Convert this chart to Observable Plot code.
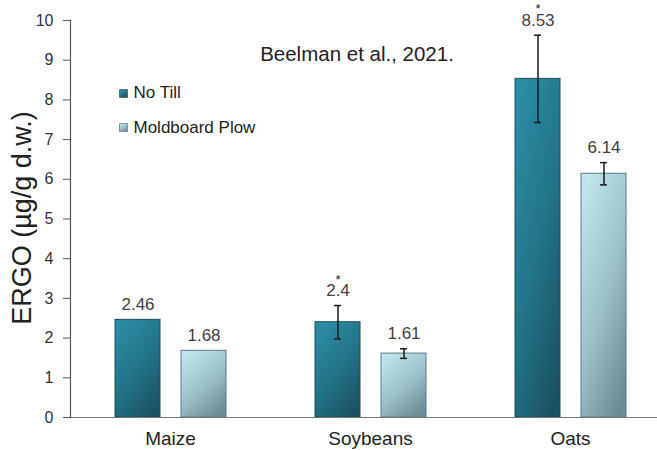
<!DOCTYPE html>
<html><head><meta charset="utf-8">
<script src="https://cdn.jsdelivr.net/npm/d3@7"></script>
<script src="https://cdn.jsdelivr.net/npm/@observablehq/plot@0.6"></script>
<style>body{margin:0;background:#fff;overflow:hidden} svg{display:block}</style>
</head><body><div id="chart"></div>
<script>
const categories = ["Maize", "Soybeans", "Oats"];
const seriesNames = ["No Till", "Moldboard Plow"];
const noTill = [2.46, 2.4, 8.53];
const plow = [1.68, 1.61, 6.14];
const noTillErr = [0, 0.42, 1.1];
const plowErr = [0, 0.12, 0.28];
const noTillSig = ["", "*", "*"];
const plowSig = ["", "", ""];
const yTicks = [0, 1, 2, 3, 4, 5, 6, 7, 8, 9, 10];
const titleText = "Beelman et al., 2021.";
const yLabel = "ERGO (µg/g d.w.)";

const mk = (vals, errs, sigs, s) => categories.map((c, i) => ({category: c, series: s, value: vals[i], err: errs[i], sig: sigs[i]}));
const ntData = mk(noTill, noTillErr, noTillSig, seriesNames[0]);
const mpData = mk(plow, plowErr, plowSig, seriesNames[1]);

const font = "'Liberation Sans', Arial, sans-serif";
const layout = {
  "No Till": {l: 45, r: 110, dx: -32.5, fill: "url(#gradNT)", stroke: "#1e4c58"},
  "Moldboard Plow": {l: 111, r: 44, dx: 33.5, fill: "url(#gradMP)", stroke: "#5d7a83"}
};

function seriesMarks(data, s) {
  const b = layout[s];
  const e = data.filter(d => d.err > 0);
  const top = d => d.value + d.err;
  const capInset = {insetLeft: 100 + b.dx - 3.5, insetRight: 100 - b.dx - 3.5};
  return [
    Plot.barY(data, {x: "category", y: "value", fill: b.fill, stroke: b.stroke, strokeWidth: 1, insetLeft: b.l, insetRight: b.r}),
    Plot.ruleX(e, {x: "category", y1: d => d.value - d.err, y2: top, dx: b.dx, stroke: "#1a1a1a", strokeWidth: 1.5}),
    Plot.tickY(e, {x: "category", y: top, ...capInset, stroke: "#1a1a1a", strokeWidth: 1.5}),
    Plot.tickY(e, {x: "category", y: d => d.value - d.err, ...capInset, stroke: "#1a1a1a", strokeWidth: 1.5}),
    Plot.text(data, {x: "category", y: top, text: d => String(d.value), dx: b.dx, dy: -15, fontSize: 17, fill: "#404040"}),
    Plot.text(data.filter(d => d.sig), {x: "category", y: top, text: "sig", dx: b.dx, dy: -31, lineAnchor: "top", fontSize: 13, fill: "#222"})
  ];
}

const plot = Plot.plot({
  width: 657, height: 450,
  marginTop: 20, marginBottom: 33, marginLeft: 70, marginRight: 0,
  style: {fontFamily: font, fontSize: "16px", color: "#333", background: "#fff"},
  x: {domain: categories, range: [70, 670], padding: 0, axis: null},
  y: {domain: [0, 10], axis: null},
  marks: [
    Plot.axisY({ticks: yTicks, tickSize: 7, tickPadding: 10, fontSize: 16, label: null, stroke: "#555", fill: "#333"}),
    Plot.axisX({tickSize: 0, tickPadding: 14, fontSize: 19, label: null, fill: "#222"}),
    ...seriesMarks(ntData, "No Till"),
    ...seriesMarks(mpData, "Moldboard Plow"),
    Plot.ruleY([0], {stroke: "#777", strokeWidth: 1.2}),
    Plot.frame({anchor: "left", stroke: "#555", strokeWidth: 1.2}),
    Plot.text([titleText], {frameAnchor: "top", lineAnchor: "middle", dx: -7, dy: 34, fontSize: 20.5, fill: "#222"}),
    Plot.text([yLabel], {frameAnchor: "left", textAnchor: "middle", lineAnchor: "middle", rotate: -90, dx: -48, dy: -1, fontSize: 27, fill: "#222"}),
    Plot.dot([seriesNames[0]], {frameAnchor: "top-left", dx: 53, dy: 73, symbol: "square", r: 4.5, fill: layout["No Till"].fill, stroke: "#555", strokeWidth: 0.8}),
    Plot.dot([seriesNames[1]], {frameAnchor: "top-left", dx: 53, dy: 107, symbol: "square", r: 4.5, fill: layout["Moldboard Plow"].fill, stroke: "#777", strokeWidth: 0.8}),
    Plot.text([seriesNames[0]], {frameAnchor: "top-left", lineAnchor: "middle", dx: 63, dy: 72, text: d => d, textAnchor: "start", fontSize: 17, fill: "#222"}),
    Plot.text([seriesNames[1]], {frameAnchor: "top-left", lineAnchor: "middle", dx: 63, dy: 107, text: d => d, textAnchor: "start", fontSize: 17, fill: "#222"})
  ]
});

const defs = d3.select(plot).insert("defs", ":first-child");
function grad(id, stops) {
  const g = defs.append("linearGradient").attr("id", id).attr("x1", 0.2).attr("y1", 0).attr("x2", 0.8).attr("y2", 1);
  stops.forEach(([o, c]) => g.append("stop").attr("offset", o).attr("stop-color", c));
}
grad("gradNT", [[0, "#2b8ca4"], [0.5, "#237488"], [1, "#1b5262"]]);
grad("gradMP", [[0, "#bfe4ee"], [0.5, "#9ec2cc"], [1, "#6b8b94"]]);

document.getElementById("chart").appendChild(plot);
</script>
</body></html>
